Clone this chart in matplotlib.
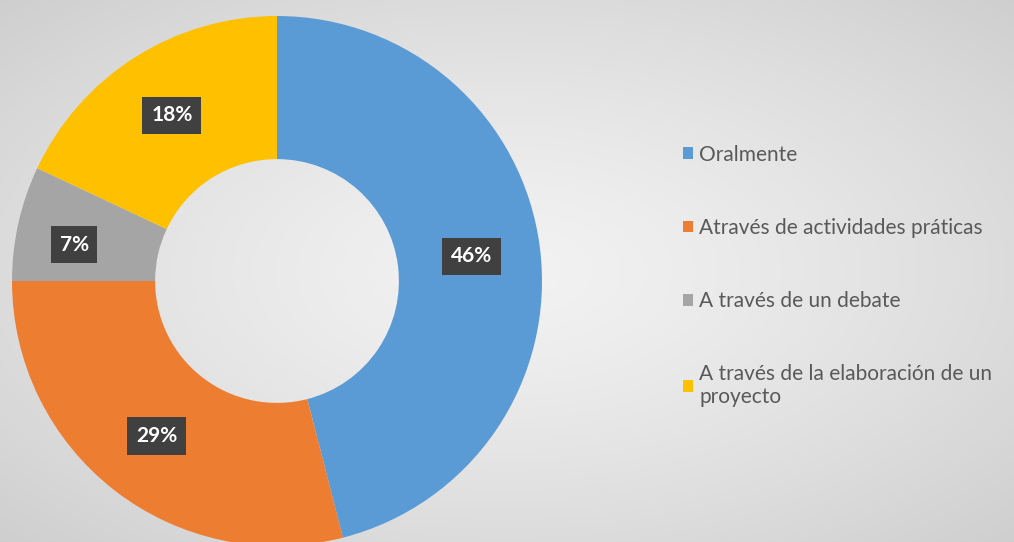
import numpy as np
import matplotlib.pyplot as plt
from matplotlib.patches import Patch

# data
labels = ['Oralmente', 'Através de actividades práticas', 'A través de un debate',
          'A través de la elaboración de un\nproyecto']
values = [46, 29, 7, 18]
colors = ['#5B9BD5', '#ED7D31', '#A5A5A5', '#FFC000']

plt.rcParams['font.family'] = ['Lato', 'DejaVu Sans']

fig = plt.figure(figsize=(10.14, 5.42), dpi=100)

# radial grey background
bg = fig.add_axes([0, 0, 1, 1])
yy, xx = np.mgrid[0:542, 0:1014]
d = np.sqrt(((xx - 507) / 507.0) ** 2 + ((yy - 271) / 271.0) ** 2) / np.sqrt(2)
shade = 0.95 - 0.14 * d ** 1.3
bg.imshow(np.dstack([shade, shade, shade]), aspect='auto', extent=[0, 1, 0, 1])
bg.axis('off')

# donut
ax = fig.add_axes([12 / 1014, -4 / 542, 530 / 1014, 530 / 542])
wedges, texts, autotexts = ax.pie(values, colors=colors, startangle=90, counterclock=False,
                                  radius=1, wedgeprops=dict(width=0.54),
                                  autopct='%d%%', pctdistance=0.74)
for t in autotexts:
    t.set_color('white')
    t.set_fontweight('bold')
    t.set_fontsize(15)
    t.set_bbox(dict(boxstyle='square,pad=0.42', facecolor='#404040', edgecolor='none'))
# the small slice label sits a bit further out
x7, y7 = autotexts[2].get_position()
autotexts[2].set_position((x7 * 1.06, y7 * 0.85))
ax.set_xlim(-1, 1)
ax.set_ylim(-1, 1)
ax.set_aspect('equal')
ax.axis('off')

# legend
handles = [Patch(facecolor=c, edgecolor='none') for c in colors]
leg = fig.legend(handles, labels, loc='upper left', bbox_to_anchor=(664 / 1014, 1 - 126 / 542),
                 frameon=False, fontsize=15, labelcolor='#595959', handlelength=0.5,
                 handleheight=0.5, handletextpad=0.3, labelspacing=2.55)

fig.savefig('out.png', dpi=100)
